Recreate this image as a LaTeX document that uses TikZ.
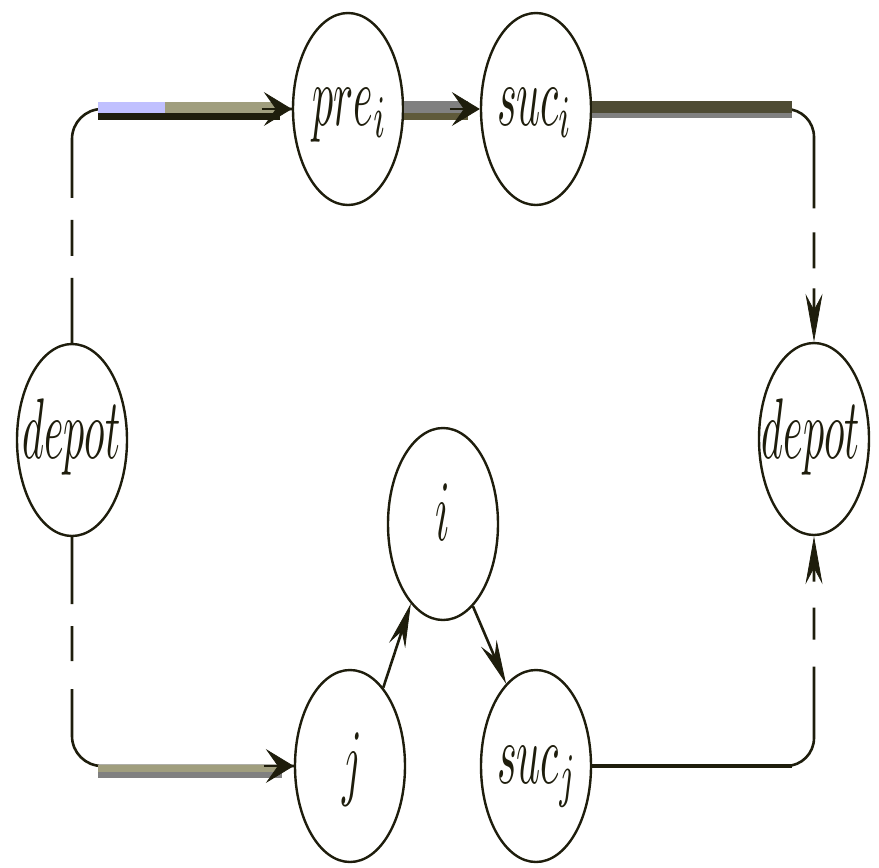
\documentclass[tikz,border=0pt]{standalone}
\usetikzlibrary{arrows.meta,calc,shapes.geometric}
\definecolor{inkc}{RGB}{30,29,12}
\definecolor{tanc}{RGB}{160,158,126}
\definecolor{lavc}{RGB}{192,192,255}
\definecolor{grayc}{RGB}{128,128,128}
\definecolor{olivec}{RGB}{95,90,58}
\definecolor{dolivec}{RGB}{78,75,52}
\newcommand\lbltxt[1]{\scalebox{4.2}[8.6]{$#1$}}
\begin{document}
\begin{tikzpicture}[x=1pt,y=-1pt,
  stn/.style={ellipse,draw=inkc,line width=2.4pt,minimum width=110pt,minimum height=192pt,inner sep=0pt,fill=white},
  lbl/.style={anchor=base,inner sep=0pt,text=inkc},
  thinln/.style={draw=inkc,line width=2.6pt},
  harr/.tip={Stealth[length=28pt,width=34pt,inset=12pt,line width=0.8pt,color=inkc]},
  varr/.tip={Stealth[length=48pt,width=17pt,inset=16pt,line width=0.8pt,color=inkc]},
  darr/.tip={Stealth[length=44pt,width=17pt,inset=15pt,line width=0.8pt,color=inkc]},
  ]
\fill[white] (0,0) rectangle (879,868);
\useasboundingbox (0,0) rectangle (879,868);

% stations
\node[stn] (depotL) at (72,440) {};
\node[stn] (depotR) at (814,439) {};
\node[stn] (pre) at (348,109) {};
\node[stn] (suci) at (536,109) {};
\node[stn] (i) at (443,524) {};
\node[stn] (j) at (350,766) {};
\node[stn] (sucj) at (536,766) {};

% labels
\node[lbl] (depotL-t) at (71.5,458) {\lbltxt{depot}};
\node[lbl] (depotR-t) at (811,458) {\lbltxt{depot}};
\node[lbl] (pre-t) at (350,125) {\lbltxt{pre_i}};
\node[lbl] (suci-t) at (535,125) {\lbltxt{suc_i}};
\node[lbl] (i-t) at (443,540) {\lbltxt{i}};
\node[lbl] (j-t) at (352,789) {\lbltxt{j}};
\node[lbl] (sucj-t) at (537,783) {\lbltxt{suc_j}};

% corner coordinates
\coordinate (tlc) at (depotL.north |- pre.west);
\coordinate (trc) at (depotR.north |- suci.east);
\coordinate (blc) at (depotL.south |- j.west);
\coordinate (brc) at (depotR.south |- sucj.east);

% thin routes (dashed verticals, rounded corners)
\draw[thinln, rounded corners=30pt, dash pattern=on 65pt off 22pt on 36pt off 22pt on 3000pt]
  (depotL.north) |- (pre.west);
\draw[thinln, rounded corners=28pt, dash pattern=on 22pt off 20pt on 36pt off 24pt on 3000pt, varr-]
  (depotR.north) |- (suci.east);
\draw[thinln, rounded corners=30pt, dash pattern=on 67pt off 22pt on 35pt off 28pt on 3000pt]
  (depotL.south) |- (j.west);
\draw[thinln, rounded corners=28pt, dash pattern=on 14pt off 26pt on 32pt off 27pt on 3000pt, varr-]
  (depotR.south) |- (sucj.east);

% thick bands on horizontal parts
\draw[lavc, line width=11pt] ($(tlc)+(26,-1.5)$) -- ($(tlc)+(93,-1.5)$);
\draw[tanc, line width=11pt] ($(tlc)+(93,-1.5)$) -- ($(pre.west)+(-12,-1.5)$);
\draw[inkc, line width=7pt] ($(tlc)+(26,7.5)$) -- ($(pre.west)+(-12,7.5)$);

\draw[grayc, line width=12pt] ($(pre.east)+(0,-2)$) -- ($(suci.west)+(-12,-2)$);
\draw[olivec, line width=7pt] ($(pre.east)+(0,7.5)$) -- ($(suci.west)+(-12,7.5)$);

\draw[dolivec, line width=12pt] ($(suci.east)+(0,-2)$) -- ($(trc)+(-22,-2)$);
\draw[grayc, line width=5pt] ($(suci.east)+(0,6.5)$) -- ($(trc)+(-22,6.5)$);

\draw[tanc, line width=7pt] ($(blc)+(26,2.5)$) -- ($(j.west)+(-12,2.5)$);
\draw[grayc, line width=6pt] ($(blc)+(26,9)$) -- ($(j.west)+(-12,9)$);

\draw[inkc, line width=4.5pt] (sucj.east) -- ($(brc)+(-22,0)$);

% arrowheads on horizontal entries
\draw[thinln, -harr] ($(pre.west)+(-30,0)$) -- (pre.west);
\draw[thinln, -harr] ($(suci.west)+(-30,0)$) -- (suci.west);
\draw[thinln, -harr] ($(j.west)+(-30,0)$) -- (j.west);

% diagonal connectors
\draw[thinln, -darr] (j.67) -- (i.248);
\draw[thinln, -darr] (i.290) -- (sucj.110);
\end{tikzpicture}
\end{document}
